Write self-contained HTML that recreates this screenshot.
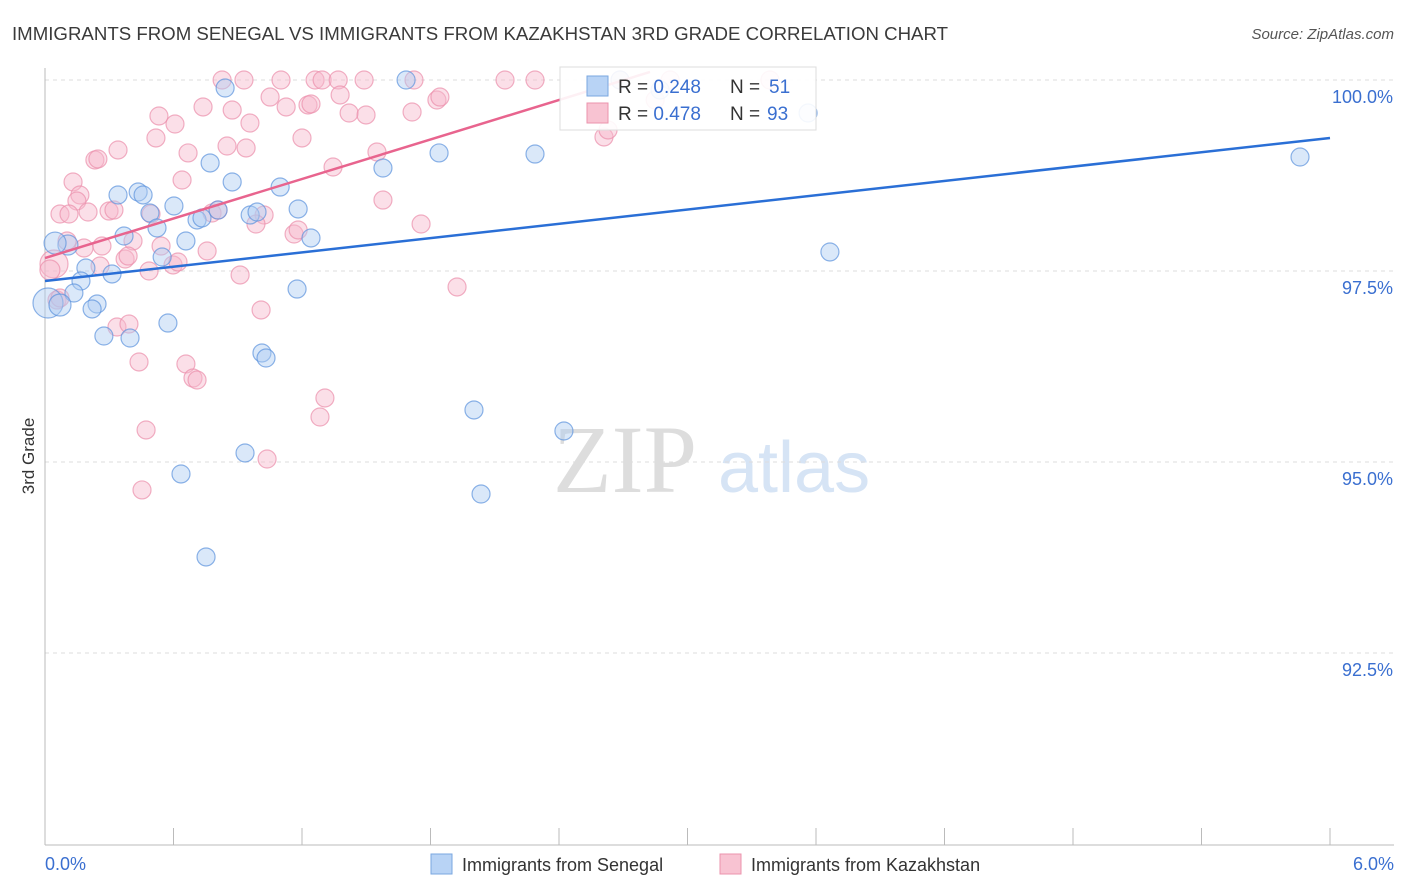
<!DOCTYPE html>
<html><head><meta charset="utf-8"><style>
body{margin:0;background:#fff;font-family:"Liberation Sans",sans-serif;}
svg{display:block}
</style></head><body>
<svg id="c" width="1406" height="892">
<text x="12" y="40" font-size="18" fill="#3a3a3a" textLength="936" lengthAdjust="spacingAndGlyphs">IMMIGRANTS FROM SENEGAL VS IMMIGRANTS FROM KAZAKHSTAN 3RD GRADE CORRELATION CHART</text>
<text x="1394" y="39" font-size="15" fill="#555" text-anchor="end" font-style="italic">Source: ZipAtlas.com</text>
<text x="34" y="456" font-size="17" fill="#333" text-anchor="middle" transform="rotate(-90 34 456)">3rd Grade</text>
<text x="553" y="492" font-size="96" fill="#ddd" font-family="Liberation Serif,serif">ZIP</text>
<text x="718" y="492" font-size="72" fill="#d6e4f5">atlas</text>
<g id="grid"></g><g id="axes"></g><g id="pts"></g><g id="lines"></g>
<g>
<rect x="560" y="67" width="256" height="63" fill="#fff" fill-opacity="0.9" stroke="#ddd"/>
<rect x="587" y="76" width="21" height="20" fill="#b8d3f5" stroke="#7aa7e0"/>
<rect x="587" y="103" width="21" height="20" fill="#f8c3d2" stroke="#eb93ac"/>
<text x="618" y="93" font-size="19" fill="#333">R = <tspan fill="#3a6fd0">0.248</tspan></text>
<text x="730" y="93" font-size="19" fill="#333">N = </text><text x="769" y="93" font-size="19" fill="#3a6fd0">51</text>
<text x="618" y="120" font-size="19" fill="#333">R = <tspan fill="#3a6fd0">0.478</tspan></text>
<text x="730" y="120" font-size="19" fill="#333">N = </text><text x="767" y="120" font-size="19" fill="#3a6fd0">93</text>
</g>
<g>
<rect x="431" y="854" width="21" height="20" fill="#b8d3f5" stroke="#7aa7e0"/>
<text x="462" y="871" font-size="18" fill="#333">Immigrants from Senegal</text>
<rect x="720" y="854" width="21" height="20" fill="#f8c3d2" stroke="#eb93ac"/>
<text x="751" y="871" font-size="18" fill="#333">Immigrants from Kazakhstan</text>
</g>
</svg>
<script>
const yTicks=[100,97.5,95,92.5];
const yTickLabels=["100.0%","97.5%","95.0%","92.5%"];
const xTickLabels=["0.0%","6.0%"];
const senegalX=[0.841,1.686,0.771,0.874,1.098,0.341,0.435,0.458,0.602,0.490,0.523,0.710,0.733,0.808,0.958,0.990,1.182,1.242,1.578,1.840,2.288,0.369,0.658,0.107,0.047,0.191,0.313,0.547,0.168,0.135,0.243,0.220,0.014,0.070,0.275,0.397,0.574,1.013,1.032,1.177,2.003,2.423,0.635,0.934,2.036,0.752,3.665,5.860,3.563,2.685,2.872];
const senegalY=[99.895,100,98.914,98.665,98.599,98.495,98.534,98.495,98.351,98.259,98.063,98.168,98.194,98.298,98.233,98.272,98.312,97.932,98.848,99.045,99.031,97.958,97.893,97.840,97.866,97.539,97.461,97.683,97.369,97.212,97.068,97.003,97.081,97.055,96.649,96.623,96.819,96.427,96.361,97.264,95.681,95.406,94.843,95.118,94.581,93.757,97.749,98.992,99.568,100,99.869];
const senegalR=[9,9,9,9,9,9,9,9,9,9,9,9,9,9,9,9,9,9,9,9,9,9,9,10,11,9,9,9,9,9,9,9,15,11,9,9,9,9,9,9,9,9,9,9,9,9,9,9,9,9,9];
const kazX=[0.827,0.929,1.102,1.261,1.294,1.369,1.490,1.723,2.148,2.288,3.385,1.051,0.738,0.874,1.126,1.228,1.242,1.378,1.420,1.499,1.714,1.830,1.844,0.532,0.607,0.957,0.518,1.200,0.668,0.341,0.233,0.247,0.850,0.939,1.345,1.550,0.640,0.131,0.163,0.149,0.201,0.070,0.112,0.299,0.322,0.495,0.780,0.808,1.023,0.985,1.163,1.182,1.756,1.578,0.411,0.542,0.757,0.182,0.266,0.103,0.374,0.388,0.598,0.621,0.486,0.911,0.257,0.042,0.023,1.924,0.056,0.070,1.009,0.336,0.392,0.439,0.658,0.691,0.710,1.307,1.284,0.472,1.037,0.453,2.610,2.629,2.685,2.919,2.849];
const kazY=[100,100,100,100,100,100,100,100,100,100,100,99.777,99.647,99.607,99.647,99.673,99.686,99.804,99.568,99.542,99.581,99.738,99.777,99.529,99.424,99.437,99.241,99.241,99.045,99.084,98.953,98.966,99.136,99.110,98.861,99.058,98.691,98.665,98.495,98.416,98.272,98.246,98.246,98.285,98.298,98.246,98.259,98.298,98.233,98.115,97.984,98.037,98.115,98.429,97.893,97.827,97.762,97.801,97.827,97.893,97.657,97.696,97.579,97.618,97.500,97.448,97.565,97.592,97.513,97.291,97.120,97.147,96.990,96.767,96.806,96.309,96.283,96.099,96.073,95.838,95.589,95.419,95.039,94.634,99.254,99.346,100,100,99.738];
const kazR=[9,9,9,9,9,9,9,9,9,9,9,9,9,9,9,9,9,9,9,9,9,9,9,9,9,9,9,9,9,9,9,9,9,9,9,9,9,9,9,9,9,9,9,9,9,9,9,9,9,9,9,9,9,9,9,9,9,9,9,9,9,9,9,9,9,9,9,14,10,9,9,9,9,9,9,9,9,9,9,9,9,9,9,9,9,9,9,9,9];
const senegalTrend=[[0,97.369],[6,99.241]];
const kazTrend=[[0,97.670],[2.825,100.105]];
const NS="http://www.w3.org/2000/svg";
const X0=45,X1=1330,Y100=80,PX_PER_PCT=76.4;
function sx(v){return X0+(v/6)*(X1-X0);}
function sy(v){return Y100+(100-v)*PX_PER_PCT;}
function mk(tag,attrs,parent){const e=document.createElementNS(NS,tag);for(const k in attrs)e.setAttribute(k,attrs[k]);parent.appendChild(e);return e;}
const grid=document.getElementById('grid'),axes=document.getElementById('axes'),pts=document.getElementById('pts'),lines=document.getElementById('lines');
yTicks.forEach((t,i)=>{
 const l=mk('line',{x1:X0,x2:1394,y1:sy(t),y2:sy(t),stroke:'#ddd','stroke-dasharray':'4,4'},grid);
 
 
 const tx=mk('text',{x:1393,y:sy(t)+23,'font-size':18,fill:'#3a6fd0','text-anchor':'end'},grid);
 tx.textContent=yTickLabels[i];
 
 
});
const ya=mk('line',{x1:X0,x2:X0,y1:68,y2:845,stroke:'#bbb'},axes);


const xa=mk('line',{x1:X0,x2:1394,y1:845,y2:845,stroke:'#bbb'},axes);


for(let i=0;i<=10;i++){const v=i*0.6;const t=mk('line',{x1:sx(v),x2:sx(v),y1:828,y2:845,stroke:'#bbb'},axes);
 
 }
[[0,'start',45],[6,'end',1394]].forEach((a,i)=>{const t=mk('text',{x:a[2],y:870,'font-size':18,fill:'#3a6fd0','text-anchor':a[1]},axes);t.textContent=xTickLabels[i];
 
 });
function drawPts(xs,ys,rs,fill,stroke,name){xs.forEach((x,i)=>{const c=mk('circle',{cx:sx(x),cy:sy(ys[i]),r:rs[i],fill:fill,'fill-opacity':0.45,stroke:stroke,'stroke-opacity':0.7,'stroke-width':1.2},pts);
 
 });}
drawPts(kazX,kazY,kazR,'#f7b9cb','#eb8fab','kazakhstan-point');
drawPts(senegalX,senegalY,senegalR,'#aecbf2','#5d93dd','senegal-point');
const bl=mk('line',{x1:sx(senegalTrend[0][0]),y1:sy(senegalTrend[0][1]),x2:sx(senegalTrend[1][0]),y2:sy(senegalTrend[1][1]),stroke:'#2a6fd6','stroke-width':2.5},lines);


const pl=mk('line',{x1:sx(kazTrend[0][0]),y1:sy(kazTrend[0][1]),x2:sx(kazTrend[1][0]),y2:sy(kazTrend[1][1]),stroke:'#e8648e','stroke-width':2.5},lines);


</script>
</body></html>
